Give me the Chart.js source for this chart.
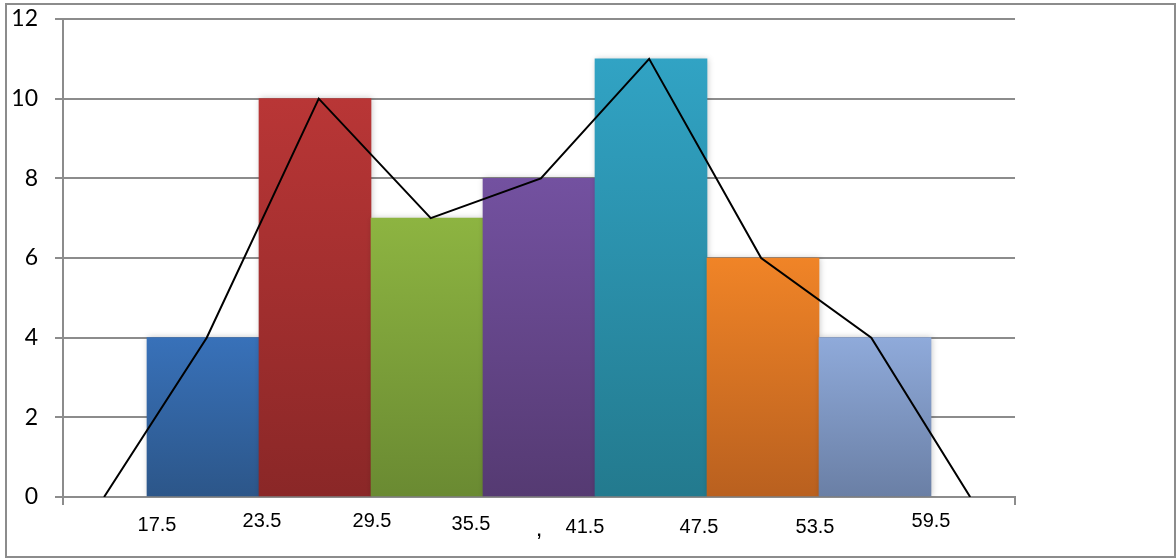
<!DOCTYPE html>
<html>
<head>
<meta charset="utf-8">
<script src="https://cdn.jsdelivr.net/npm/chart.js@4/dist/chart.umd.min.js"></script>
<style>
  html, body { margin: 0; padding: 0; background: #fff; }
  #wrap { width: 1176px; height: 559px; }
</style>
</head>
<body>
<div id="wrap"><canvas id="c" width="1176" height="559"></canvas></div>
<script>
// Histogram: class midpoints and frequencies
const classMidpoints = [20.5, 26.5, 32.5, 38.5, 44.5, 50.5, 56.5];
const frequencies = [4, 10, 7, 8, 11, 6, 4];

// Frequency polygon vertices
const polygonX = [15.2, 20.7, 26.7, 32.7, 38.6, 44.4, 50.4, 56.3, 61.6];
const polygonY = [0, 4, 10, 7, 8, 11, 6, 4, 0];

// Class boundaries written under the axis
const boundaryValues = [17.5, 23.5, 29.5, 35.5, 41.5, 47.5, 53.5, 59.5];
const boundaryLabels = ['17.5', '23.5', '29.5', '35.5', '41.5', '47.5', '53.5', '59.5'];

// Frequency axis ticks
const yTicks = [0, 2, 4, 6, 8, 10, 12];

// Stray mark sitting under the axis
const strayText = ',';
const strayAt = 38.5;

// ---- styling ----
const barTop    = ['#3871b9', '#b93636', '#8db441', '#7351a0', '#31a3c4', '#f08427', '#8faada'];
const barBottom = ['#2c5689', '#8a2727', '#6a8a32', '#553a72', '#237a8e', '#b9601f', '#6a7fa5'];
const gridGray = '#8c8c8c';
const labelDx = [10, 3, 1, -12, -10, -8, -4, 0];
const labelDy = [28, 24, 24, 27, 30, 30, 30, 24];

function barFill(ctx) {
  const i = ctx.dataIndex;
  const chart = ctx.chart;
  if (!chart.chartArea || !chart.scales.y) return barTop[i];
  const y = chart.scales.y;
  const top = y.getPixelForValue(ctx.parsed ? ctx.parsed.y : frequencies[i]);
  const bottom = y.getPixelForValue(0);
  const g = chart.ctx.createLinearGradient(0, top, 0, bottom);
  g.addColorStop(0, barTop[i]);
  g.addColorStop(1, barBottom[i]);
  return g;
}

// Outer frame, soft bar shadow and the boundary labels
const decorations = {
  id: 'decorations',
  beforeDraw(chart) {
    const c = chart.ctx;
    c.save();
    c.fillStyle = '#fff';
    c.fillRect(0, 0, chart.width, chart.height);
    c.strokeStyle = gridGray;
    c.lineWidth = 2;
    c.strokeRect(6, 4, 1169, 553);
    c.restore();
  },
  beforeDatasetDraw(chart, args) {
    if (args.meta.type === 'bar') {
      const c = chart.ctx;
      c.save();
      c.shadowColor = 'rgba(0,0,0,0.22)';
      c.shadowBlur = 6;
      c.shadowOffsetX = 1;
      c.shadowOffsetY = 0;
    }
  },
  afterDatasetDraw(chart, args) {
    if (args.meta.type === 'bar') chart.ctx.restore();
  },
  afterDraw(chart) {
    const c = chart.ctx;
    const x = chart.scales.x;
    const base = chart.chartArea.bottom;
    c.save();
    c.fillStyle = '#000';
    c.font = '20px "Liberation Sans", Arial, sans-serif';
    c.textAlign = 'center';
    c.textBaseline = 'middle';
    boundaryValues.forEach((v, i) => {
      c.fillText(boundaryLabels[i], x.getPixelForValue(v) + labelDx[i], base + labelDy[i]);
    });
    c.font = '24px "Liberation Sans", Arial, sans-serif';
    c.textBaseline = 'alphabetic';
    c.fillText(strayText, x.getPixelForValue(strayAt), base + 39);
    c.restore();
  }
};

new Chart(document.getElementById('c'), {
  data: {
    datasets: [
      {
        type: 'line',
        order: 0,
        data: polygonX.map((x, i) => ({ x, y: polygonY[i] })),
        borderColor: '#000',
        borderWidth: 2,
        pointRadius: 0,
        tension: 0,
        fill: false
      },
      {
        type: 'bar',
        order: 1,
        data: classMidpoints.map((x, i) => ({ x, y: frequencies[i] })),
        backgroundColor: barFill,
        borderWidth: 0,
        barPercentage: 1.0,
        categoryPercentage: 1.0
      }
    ]
  },
  options: {
    responsive: false,
    animation: false,
    layout: { padding: { top: 19, right: 161, bottom: 0, left: 0 } },
    plugins: { legend: { display: false }, tooltip: { enabled: false } },
    scales: {
      x: {
        type: 'linear',
        position: 'bottom',
        offset: false,
        min: 13,
        max: 64,
        afterBuildTicks: s => { s.ticks = [{ value: 13 }, { value: 64 }]; },
        afterFit: s => { s.height = 62; s.paddingLeft = 0; s.paddingRight = 0; },
        ticks: { display: false },
        grid: { offset: false, drawOnChartArea: false, drawTicks: true, tickLength: 8, color: gridGray, lineWidth: 2 },
        border: { display: true, color: gridGray, width: 2 }
      },
      y: {
        type: 'linear',
        min: 0,
        max: 12,
        afterBuildTicks: s => { s.ticks = yTicks.map(v => ({ value: v })); },
        afterFit: s => { s.width = 63; s.paddingTop = 0; s.paddingBottom = 0; },
        ticks: {
          color: '#000',
          padding: 17,
          font: { family: 'Lato, "Open Sans", sans-serif', size: 23 }
        },
        grid: { color: gridGray, lineWidth: 2, tickLength: 8 },
        border: { display: true, color: gridGray, width: 2 }
      }
    }
  },
  plugins: [decorations]
});
</script>
</body>
</html>
